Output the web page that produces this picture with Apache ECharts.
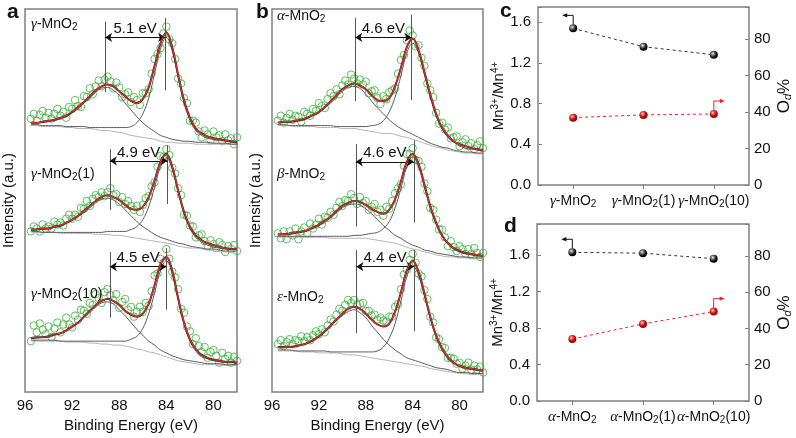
<!DOCTYPE html>
<html><head><meta charset="utf-8">
<script src="https://cdn.jsdelivr.net/npm/echarts@6/dist/echarts.min.js"></script>
<style>html,body{margin:0;padding:0;background:#fff}#c{width:796px;height:438px}</style>
</head><body><div id="c"></div>
<script>
// ---------- data ----------
const energyFit = [95.5,95,94.5,94,93.5,93,92.5,92,91.5,91,90.5,90,89.5,89,88.5,88,87.5,87,86.5,86,85.5,85,84.5,84,83.5,83,82.5,82,81.5,81,80.5,80,79.5,79,78.5,78];
const energyScan = [95.5,95.25,95,94.75,94.5,94.25,94,93.75,93.5,93.25,93,92.75,92.5,92.25,92,91.75,91.5,91.25,91,90.75,90.5,90.25,90,89.75,89.5,89.25,89,88.75,88.5,88.25,88,87.75,87.5,87.25,87,86.75,86.5,86.25,86,85.75,85.5,85.25,85,84.75,84.5,84.25,84,83.75,83.5,83.25,83,82.75,82.5,82.25,82,81.75,81.5,81.25,81,80.75,80.5,80.25,80,79.75,79.5,79.25,79,78.75,78.5,78.25,78];
const xTickLabels = [96,92,88,84,80];

// panel a : gamma-MnO2
const a1Scan = [279,284,277,283,287,280,285,279,284,289,282,286,280,291,289,298,292,291,302,301,310,304,312,318,312,319,322,317,310,316,311,301,304,306,296,301,298,293,305,305,309,325,340,345,351,366,373,360,356,340,320,315,300,295,277,277,275,266,260,267,263,257,266,260,262,256,263,257,259,253,260];
const a1Fit  = [275,275,276,277,278,280,282,286,291,296,302,308,312,314,312,307,302,297,295,299,311,333,356,367,352,324,298,280,269,264,261,259,258,257,256,255];
const a1Mn4  = [273,273,272,272,272,272,271,271,271,271,270,270,270,270,270,270,270,271,275,284,300,325,350,362,348,321,295,278,267,262,259,258,257,256,255,254];
const a1Sat  = [275,275,275,276,277,279,281,285,289,295,300,306,310,311,308,303,295,288,281,275,270,266,262,260,258,257,256,256,255,255,255,254,254,254,253,253];
const a1Bg   = [272,272,271,271,271,271,270,270,269,269,269,268,267,267,266,265,264,262,261,260,259,258,256,255,255,254,254,254,253,253,253,253,253,253,253,252];

const a2Scan = [164,169,167,164,171,167,169,167,174,171,173,170,177,181,177,181,179,188,187,195,190,197,201,199,204,200,204,208,201,202,194,199,192,195,190,186,190,184,191,198,200,210,214,230,241,240,248,242,229,223,208,201,181,180,170,169,158,160,161,154,149,155,151,147,153,150,143,149,146,150,144];
const a2Fit  = [166,166,167,167,169,170,173,176,180,185,190,195,199,201,199,196,191,187,186,189,199,216,235,243,230,206,184,169,160,155,152,150,148,147,146,146];
const a2Mn4  = [164,164,163,163,163,163,163,163,163,163,163,163,163,164,164,164,164,166,169,176,189,209,230,239,227,204,182,167,158,153,150,148,147,146,146,145];
const a2Sat  = [165,166,166,167,168,169,172,175,179,183,188,193,197,198,196,192,186,180,174,169,165,161,158,156,154,152,151,149,148,147,146,146,145,144,144,144];
const a2Bg   = [163,163,163,163,163,162,162,162,162,162,162,161,161,161,160,160,159,158,157,156,155,154,153,152,151,149,148,147,147,146,145,144,144,143,143,143];

const a3Scan = [52,68,61,70,64,59,67,56,65,71,61,69,76,69,66,78,74,84,83,80,91,89,100,96,91,102,105,99,94,100,86,92,95,84,87,77,82,87,82,91,88,103,119,121,136,132,146,136,123,117,105,85,81,67,62,49,55,47,41,46,35,41,43,37,30,40,34,37,30,36,32];
const a3Fit  = [55,56,56,57,59,60,63,67,71,77,83,89,93,95,93,89,83,79,77,80,90,109,130,138,124,96,71,54,44,38,35,33,32,31,31,30];
const a3Mn4  = [53,53,53,53,53,52,52,52,52,52,52,52,52,52,52,52,52,54,57,65,80,101,124,134,120,94,69,52,42,36,34,32,31,30,30,29];
const a3Sat  = [55,55,56,56,58,60,62,66,70,76,81,87,91,92,90,84,78,71,64,58,52,48,43,40,37,35,33,32,31,30,29,29,29,28,28,28];
const a3Bg   = [52,52,52,52,52,52,51,51,51,51,50,50,49,49,48,48,47,46,44,43,41,40,38,36,34,32,31,30,29,28,28,28,28,27,27,27];

// panel b : alpha / beta / epsilon
const b1Scan = [277,282,275,280,284,278,282,281,276,286,284,282,289,287,295,292,290,299,305,302,309,304,313,318,314,324,320,315,319,314,317,305,307,308,300,294,302,299,306,308,310,325,339,344,359,369,364,353,354,341,333,315,308,301,285,274,275,268,270,259,260,261,251,255,258,251,254,248,252,256,249];
const b1Fit  = [275,276,276,277,278,280,283,286,291,297,303,309,313,315,313,309,303,298,297,300,312,331,352,361,349,327,304,284,270,262,256,253,251,249,248,247];
const b1Mn4  = [273,273,272,272,272,272,272,272,272,272,271,271,271,271,271,271,272,273,277,286,301,323,346,356,346,324,301,282,269,260,255,251,249,248,247,246];
const b1Sat  = [275,275,275,276,277,279,282,285,290,295,301,307,311,312,310,304,297,290,284,278,273,269,266,263,260,257,254,252,250,249,247,246,245,245,244,244];
const b1Bg   = [272,272,272,271,271,271,271,270,270,270,270,269,269,269,268,267,266,265,264,264,263,261,260,258,256,254,252,250,249,247,246,245,244,244,243,243];

const b2Scan = [162,157,164,156,164,160,167,156,164,168,162,172,167,171,177,171,179,178,184,181,188,194,190,196,195,202,198,192,199,193,195,186,189,192,184,186,180,189,187,195,203,208,212,231,243,243,249,237,236,230,213,205,188,186,176,166,166,158,149,154,148,144,149,146,141,146,141,147,142,138,142];
const b2Fit  = [161,161,162,163,164,165,168,171,175,179,185,190,193,195,194,191,187,184,182,186,197,215,235,243,233,212,190,173,160,152,147,144,142,141,140,139];
const b2Mn4  = [159,159,159,159,159,159,159,159,159,159,159,159,159,160,160,161,162,163,167,174,188,208,230,240,230,209,188,171,159,151,146,143,141,140,139,139];
const b2Sat  = [160,161,161,162,163,165,167,170,173,178,183,188,191,192,191,187,182,176,170,165,160,157,153,150,148,145,144,142,141,140,139,138,138,137,137,137];
const b2Bg   = [158,158,158,158,158,158,158,158,158,157,157,157,157,157,157,157,156,155,154,153,152,150,148,146,145,143,142,140,139,138,138,137,137,136,136,136];

const b3Scan = [49,53,47,51,54,49,53,52,57,52,56,53,58,62,59,64,61,68,74,72,79,85,83,89,94,91,94,89,90,91,83,83,78,79,74,76,73,72,77,77,87,90,105,120,125,135,141,132,121,118,104,95,77,71,56,54,46,45,35,35,34,29,30,24,27,30,23,27,23,26,20];
const b3Fit  = [46,46,46,47,48,50,53,57,62,68,74,80,85,87,85,80,74,69,67,70,82,102,124,134,123,101,77,58,45,36,30,27,25,24,23,22];
const b3Mn4  = [43,43,43,42,42,42,42,42,42,41,41,41,41,41,41,41,41,42,46,55,70,93,118,129,119,98,75,56,43,34,29,26,24,23,22,21];
const b3Sat  = [45,45,46,46,48,50,52,56,61,67,73,78,82,84,81,76,68,61,54,48,43,39,35,33,31,29,27,25,24,23,21,20,20,19,19,19];
const b3Bg   = [42,42,42,42,41,41,41,40,40,40,40,39,38,38,37,36,35,34,33,32,31,30,29,28,27,26,24,23,22,21,20,19,19,18,18,18];

// splitting annotations: [label, satellite eV, main eV, satTop, satBottom, mainTop, mainBottom, arrow level]
const splitA = [
  ['5.1 eV', 89.2, 84.1, 378, 306, 382, 308, 362],
  ['4.9 eV', 88.8, 83.9, 248, 186, 252, 192, 236],
  ['4.5 eV', 88.8, 84.0, 143, 76, 147, 84, 128]
];
const splitB = [
  ['4.6 eV', 88.9, 84.1, 382, 297, 385, 298, 362],
  ['4.6 eV', 88.85, 83.9, 253, 169, 257, 173, 235],
  ['4.4 eV', 88.8, 83.9, 145, 60, 145, 62, 128]
];
const namesA = ['γ-MnO2', 'γ-MnO2(1)', 'γ-MnO2(10)'];
const namesB = ['α-MnO2', 'β-MnO2', 'ε-MnO2'];

// panels c, d
const cCats = ['γ-MnO2', 'γ-MnO2(1)', 'γ-MnO2(10)'];
const cRatio = [1.54, 1.36, 1.28];
const cOd = [36.9, 38.4, 38.9];
const dCats = ['α-MnO2', 'α-MnO2(1)', 'α-MnO2(10)'];
const dRatio = [1.63, 1.62, 1.56];
const dOd = [34.2, 42.5, 49.3];
const ratioTicks = [0, 0.4, 0.8, 1.2, 1.6];
const odTicks = [0, 20, 40, 60, 80];

// ---------- chart ----------
const SANS = 'Liberation Sans, Arial, sans-serif';
const SERIF = 'Liberation Serif, Times New Roman, serif';
const INK = '#111';
const FRAME = '#808080';
const chart = echarts.init(document.getElementById('c'), null, {renderer: 'canvas'});

const richSub = {
  g: {fontFamily: SERIF, fontStyle: 'italic', fontSize: 15, color: INK},
  s: {fontSize: 10, padding: [6, 0, 0, 0], color: INK, fontFamily: SANS}
};
function chem(v) { return v.replace(/^([αβγε])/, '{g|$1}').replace('MnO2', 'MnO{s|2}'); }
const pair = (xs, ys) => xs.map((x, i) => [x, ys[i]]);

function spectrum(ax, scan, fit, mn4, sat, bg, sp) {
  const base = {type: 'line', xAxisIndex: ax, yAxisIndex: ax, smooth: 0.4, showSymbol: false, silent: true, animation: false};
  return [
    {type: 'scatter', xAxisIndex: ax, yAxisIndex: ax, data: pair(energyScan, scan), symbol: 'circle', symbolSize: 7.5,
     itemStyle: {color: 'rgba(0,0,0,0)', borderColor: '#3aae3a', borderWidth: 1}, z: 2, silent: true, animation: false},
    Object.assign({}, base, {data: pair(energyFit, bg), lineStyle: {color: '#b3b3b3', width: 1}, z: 3}),
    Object.assign({}, base, {data: pair(energyFit, mn4), lineStyle: {color: '#5a5a5a', width: 1}, z: 3}),
    Object.assign({}, base, {data: pair(energyFit, sat), lineStyle: {color: '#5a5a5a', width: 1}, z: 3}),
    Object.assign({}, base, {data: pair(energyFit, fit), lineStyle: {color: '#333', width: 2}, z: 4}),
    Object.assign({}, base, {data: pair(energyFit, fit), lineStyle: {color: '#ee2222', width: 1.2}, z: 5,
      markLine: {
        silent: true, animation: false, symbol: ['none', 'none'],
        lineStyle: {color: '#555', width: 1, type: 'solid'},
        label: {show: false},
        data: [
          [{coord: [sp[1], sp[3]]}, {coord: [sp[1], sp[4]]}],
          [{coord: [sp[2], sp[5]]}, {coord: [sp[2], sp[6]]}],
          [{coord: [sp[1], sp[7]], symbol: 'arrow', symbolSize: 7,
            lineStyle: {color: INK, width: 1, type: 'solid'},
            label: {show: true, position: 'middle', formatter: sp[0], distance: 1, fontSize: 15, color: INK, fontFamily: SANS}},
           {coord: [sp[2], sp[7]], symbol: 'arrow', symbolSize: 7}]
        ]
      }})
  ];
}

function xpsX(grid) {
  return {type: 'value', gridIndex: grid, min: 78, max: 96, interval: 2, inverse: true,
    axisLine: {show: false}, axisTick: {show: false}, splitLine: {show: false},
    axisLabel: {margin: 6, fontSize: 15, color: INK, fontFamily: SANS,
      formatter: v => (xTickLabels.indexOf(v) >= 0 ? String(v) : '')},
    name: 'Binding Energy (eV)', nameLocation: 'middle', nameGap: 20,
    nameTextStyle: {fontSize: 15, color: INK, fontFamily: SANS}};
}
function xpsY(grid) {
  return {type: 'value', gridIndex: grid, min: 0, max: 391,
    axisLine: {show: false}, axisTick: {show: false}, axisLabel: {show: false}, splitLine: {show: false},
    name: 'Intensity (a.u.)', nameLocation: 'middle', nameGap: 9, nameRotate: 90,
    nameTextStyle: {fontSize: 15, color: INK, fontFamily: SANS}};
}
function catX(grid, cats) {
  return {type: 'category', gridIndex: grid, data: cats, boundaryGap: true,
    axisLine: {show: false}, splitLine: {show: false},
    axisTick: {show: true, alignWithLabel: true, length: 4, lineStyle: {color: FRAME}},
    axisLabel: {interval: 0, margin: 8, fontSize: 14, color: INK, fontFamily: SANS, formatter: chem, rich: richSub}};
}
function ratioY(grid, max) {
  return {type: 'value', gridIndex: grid, min: 0, max: max, interval: 0.4, position: 'left',
    axisLine: {show: false}, splitLine: {show: false},
    axisTick: {show: true, inside: true, length: 4, lineStyle: {color: FRAME}},
    axisLabel: {margin: 7, fontSize: 15, color: INK, fontFamily: SANS,
      formatter: v => { const m = ratioTicks.find(t => Math.abs(t - v) < 1e-6); return m === undefined ? '' : m.toFixed(1); }},
    name: '{t|Mn}{p|3+}{t|/Mn}{p|4+}', nameLocation: 'middle', nameGap: 30, nameRotate: 90,
    nameTextStyle: {fontSize: 15, color: INK, fontFamily: SANS,
      rich: {t: {fontSize: 15, color: INK, fontFamily: SANS}, p: {fontSize: 10, color: INK, fontFamily: SANS, padding: [0, 0, 7, 0]}}}};
}
function odY(grid, max) {
  return {type: 'value', gridIndex: grid, min: 0, max: max, interval: 20, position: 'right',
    axisLine: {show: false}, splitLine: {show: false},
    axisTick: {show: true, inside: true, length: 4, lineStyle: {color: FRAME}},
    axisLabel: {margin: 5, fontSize: 15, color: INK, fontFamily: SANS,
      formatter: v => (odTicks.indexOf(v) >= 0 ? String(v) : '')},
    name: '{t|O}{d|d}{t|%}', nameLocation: 'middle', nameGap: 26, nameRotate: 90,
    nameTextStyle: {fontSize: 17, color: INK, fontFamily: SANS,
      rich: {t: {fontSize: 17, color: INK, fontFamily: SANS}, d: {fontSize: 11, fontStyle: 'italic', color: INK, fontFamily: SANS, padding: [7, 0, 0, 0]}}}};
}

const blackBall = {type: 'radial', x: 0.38, y: 0.35, r: 0.6, colorStops: [
  {offset: 0, color: '#f0f0f0'}, {offset: 0.35, color: '#777'}, {offset: 0.75, color: '#111'}, {offset: 1, color: '#000'}]};
const redBall = {type: 'radial', x: 0.38, y: 0.35, r: 0.6, colorStops: [
  {offset: 0, color: '#ffd6d6'}, {offset: 0.35, color: '#e25050'}, {offset: 0.75, color: '#c00000'}, {offset: 1, color: '#900'}]};

function trend(xi, yi, data, ball, col) {
  return {type: 'line', xAxisIndex: xi, yAxisIndex: yi, data: data, symbol: 'circle', symbolSize: 8,
    showSymbol: true, silent: true, animation: false,
    itemStyle: {color: ball}, lineStyle: {color: col, width: 1, type: [3, 3]}, z: 5};
}

const gridStyle = {show: true, borderColor: FRAME, borderWidth: 1.5, backgroundColor: 'transparent', containLabel: false};

const option = {
  animation: false,
  textStyle: {fontFamily: SANS},
  grid: [
    Object.assign({left: 25, top: 9, width: 212, height: 391}, gridStyle),
    Object.assign({left: 272, top: 9, width: 211, height: 391}, gridStyle),
    Object.assign({left: 538, top: 7, width: 211, height: 178}, gridStyle),
    Object.assign({left: 537, top: 224, width: 212, height: 177}, gridStyle)
  ],
  xAxis: [xpsX(0), xpsX(1), catX(2, cCats), catX(3, dCats)],
  yAxis: [xpsY(0), xpsY(1), ratioY(2, 1.75), odY(2, 97.5), ratioY(3, 1.94), odY(3, 97.6)],
  series: [].concat(
    spectrum(0, a1Scan, a1Fit, a1Mn4, a1Sat, a1Bg, splitA[0]),
    spectrum(0, a2Scan, a2Fit, a2Mn4, a2Sat, a2Bg, splitA[1]),
    spectrum(0, a3Scan, a3Fit, a3Mn4, a3Sat, a3Bg, splitA[2]),
    spectrum(1, b1Scan, b1Fit, b1Mn4, b1Sat, b1Bg, splitB[0]),
    spectrum(1, b2Scan, b2Fit, b2Mn4, b2Sat, b2Bg, splitB[1]),
    spectrum(1, b3Scan, b3Fit, b3Mn4, b3Sat, b3Bg, splitB[2]),
    [trend(2, 2, cRatio, blackBall, '#333'), trend(2, 3, cOd, redBall, '#e8262a'),
     trend(3, 4, dRatio, blackBall, '#333'), trend(3, 5, dOd, redBall, '#e8262a')]
  )
};
chart.setOption(option);

// ---------- annotations ----------
function txt(x, y, text, size, bold, rich) {
  return {type: 'text', x: x, y: y, silent: true, z: 50,
    style: {text: text, fontSize: size, fontWeight: bold ? 'bold' : 'normal', fontFamily: SANS, fill: INK,
      textAlign: 'left', textVerticalAlign: 'middle', rich: rich}};
}
function elbow(p, dir, color) {
  const top = p[1] - 13, endX = p[0] + dir * 11;
  return [
    {type: 'polyline', silent: true, z: 40, shape: {points: [[p[0], p[1] - 4], [p[0], top], [endX - dir * 3, top]]},
     style: {stroke: color, lineWidth: 1, fill: 'none'}},
    {type: 'polygon', silent: true, z: 40, shape: {points: [[endX, top], [endX - dir * 5, top - 2.2], [endX - dir * 5, top + 2.2]]},
     style: {fill: color, stroke: 'none'}}
  ];
}
const graphics = [
  txt(7, 12, 'a', 21, true), txt(256, 12, 'b', 21, true),
  txt(500, 11, 'c', 21, true), txt(504, 226, 'd', 21, true),
  txt(31, 24, chem(namesA[0]), 14, false, richSub),
  txt(31, 174, chem(namesA[1]), 14, false, richSub),
  txt(31, 294, chem(namesA[2]), 14, false, richSub),
  txt(277, 16, chem(namesB[0]), 14, false, richSub),
  txt(277, 174, chem(namesB[1]), 14, false, richSub),
  txt(277, 297, chem(namesB[2]), 14, false, richSub)
];
const pc1 = chart.convertToPixel({xAxisIndex: 2, yAxisIndex: 2}, [0, cRatio[0]]);
const pc2 = chart.convertToPixel({xAxisIndex: 2, yAxisIndex: 3}, [2, cOd[2]]);
const pd1 = chart.convertToPixel({xAxisIndex: 3, yAxisIndex: 4}, [0, dRatio[0]]);
const pd2 = chart.convertToPixel({xAxisIndex: 3, yAxisIndex: 5}, [2, dOd[2]]);
graphics.push(...elbow(pc1, -1, '#111'), ...elbow(pc2, 1, '#e8262a'), ...elbow(pd1, -1, '#111'), ...elbow(pd2, 1, '#e8262a'));
chart.setOption({graphic: graphics});
</script>
</body></html>
